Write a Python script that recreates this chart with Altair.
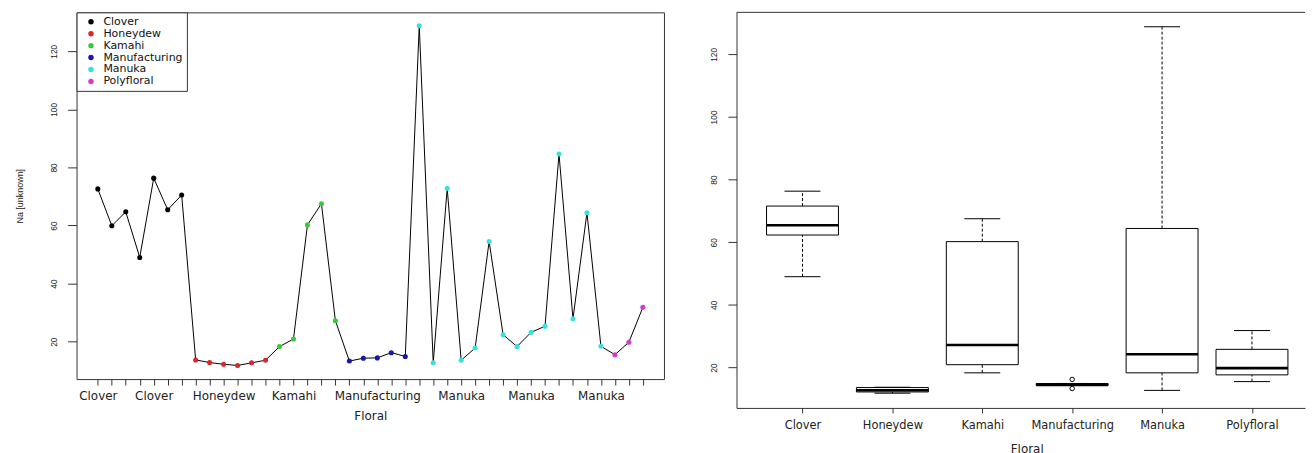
import math
import json
import altair as alt
import pandas as pd

# ---------------- data ----------------
floral_names = ["Clover", "Honeydew", "Kamahi", "Manufacturing", "Manuka", "Polyfloral"]
clover = [72.6, 59.9, 64.7, 49.0, 76.3, 65.4, 70.5]
honeydew = [13.7, 12.8, 12.2, 11.8, 12.7, 13.6]
kamahi = [18.3, 20.9, 60.2, 67.5, 27.2]
manufacturing = [13.3, 14.3, 14.4, 16.2, 14.9]
manuka = [128.8, 12.7, 72.8, 13.6, 17.8, 54.5, 22.4, 18.3, 23.2, 25.3, 84.6, 27.9, 64.4, 18.4]
polyfloral = [15.5, 19.8, 31.8]
point_colors = ["#000000", "#D8262B", "#3CC83C", "#1818A8", "#38E0E0", "#D43CC8"]
# sample indices that carry a text label on the left x axis
x_label_index = [1, 5, 10, 15, 21, 27, 32, 37]
y_ticks = [20, 40, 60, 80, 100, 120]

groups = [clover, honeydew, kamahi, manufacturing, manuka, polyfloral]

# ---------------- left panel table ----------------
vals, flor = [], []
for name, g in zip(floral_names, groups):
    vals += g
    flor += [name] * len(g)
n = len(vals)
left_df = pd.DataFrame({"idx": list(range(1, n + 1)), "na": vals, "floral": flor})
x_label_text = [flor[i - 1] for i in x_label_index]
label_expr = "indexof({a}, datum.value) >= 0 ? {b}[indexof({a}, datum.value)] : ''".format(
    a=json.dumps(x_label_index), b=json.dumps(x_label_text))

# ---------------- boxplot statistics (R boxplot / Tukey hinges) ----------------
def fivenum(v):
    s = sorted(v)
    m = len(s)
    n4 = math.floor((m + 3) / 2) / 2
    d = [1, n4, (m + 1) / 2, m + 1 - n4, m]
    return [0.5 * (s[math.floor(x - 1)] + s[math.ceil(x - 1)]) for x in d]

box_rows, out_rows = [], []
for pos, (name, g) in enumerate(zip(floral_names, groups), start=1):
    mn, q1, med, q3, mx = fivenum(g)
    iqr = q3 - q1
    inside = [v for v in g if q1 - 1.5 * iqr <= v <= q3 + 1.5 * iqr]
    lo, hi = min(inside), max(inside)
    box_rows.append({"pos": pos, "floral": name, "q1": q1, "med": med, "q3": q3, "lo": lo, "hi": hi})
    for v in g:
        if v < lo or v > hi:
            out_rows.append({"pos": pos, "value": v})
box_df = pd.DataFrame(box_rows)
out_df = pd.DataFrame(out_rows)
frame_df = pd.DataFrame({"k": [0]})

HFONT = "DejaVu Sans"
VFONT = "Liberation Sans"
FRAME = "#333333"
TXT = "#222222"

# ---------------- left panel ----------------
lx = alt.Scale(domain=[-0.52, 41.51], nice=False, zero=False)
ly = alt.Scale(domain=[7.1, 133.4], nice=False, zero=False)

x_left = alt.X("idx:Q", scale=lx, axis=alt.Axis(
    values=list(range(1, n + 1)), labelExpr=label_expr, labelOverlap=False, labelFlush=False,
    tickSize=6, tickColor=FRAME, labelPadding=6, labelFont=HFONT, labelFontSize=12,
    labelColor=TXT, domain=False, grid=False, title="Floral", titleFont=HFONT,
    titleFontSize=12, titleFontWeight="normal", titleColor=TXT, titlePadding=9))
y_left = alt.Y("na:Q", scale=ly, axis=alt.Axis(
    values=y_ticks, labelAngle=270, labelAlign="center", labelBaseline="bottom",
    tickSize=9, tickColor=FRAME, labelPadding=9.5, labelFont=VFONT, labelFontSize=8.5,
    labelColor=TXT, domain=False, grid=False, title="Na [unknown]", titleFont=VFONT,
    titleFontSize=9, titleFontWeight="normal", titleColor=TXT, titlePadding=24.5))

line = alt.Chart(left_df).mark_line(color="black", strokeWidth=1).encode(x=x_left, y=y_left)
pts = alt.Chart(left_df).mark_circle(size=26, opacity=1).encode(
    x=x_left, y=y_left,
    color=alt.Color("floral:N", scale=alt.Scale(domain=floral_names, range=point_colors),
                    legend=alt.Legend(orient="top-left", offset=0, title=None, strokeColor=FRAME,
                                      fillColor="white", padding=4, symbolType="circle",
                                      symbolSize=30, symbolStrokeWidth=0, labelFont=HFONT,
                                      labelFontSize=11, labelColor="#111111", labelOffset=7,
                                      symbolOffset=5, rowPadding=0, cornerRadius=0)))
left = alt.layer(line, pts).properties(width=591, height=369)

# ---------------- right panel ----------------
rx = alt.Scale(domain=[0.266, 6.59], nice=False, zero=False)
ry = alt.Scale(domain=[7.1, 133.4], nice=False, zero=False)
x_ax = alt.Axis(values=[1, 2, 3, 4, 5, 6],
                labelExpr="{b}[datum.value - 1]".format(b=json.dumps(floral_names)),
                labelOverlap=False, labelFlush=False, tickSize=5, tickColor=FRAME, labelPadding=7,
                labelFont=HFONT, labelFontSize=11.5, labelColor=TXT, domain=True,
                domainColor=FRAME, grid=False, title="Floral", titleFont=HFONT, titleFontSize=12,
                titleFontWeight="normal", titleColor=TXT, titlePadding=12, titleX=292)
y_ax = alt.Axis(values=y_ticks, labelAngle=270, labelAlign="center", labelBaseline="bottom",
                tickSize=8.6, tickColor=FRAME, labelPadding=9.5, labelFont=VFONT, labelFontSize=8.5,
                labelColor=TXT, domain=True, domainColor=FRAME, grid=False, title=None)

base = alt.Chart(box_df).transform_calculate(
    bl="datum.pos - 0.4", br="datum.pos + 0.4", sl="datum.pos - 0.2", sr="datum.pos + 0.2")

w_up = base.mark_rule(color="black", strokeWidth=1, strokeDash=[3, 2]).encode(
    x=alt.X("pos:Q", scale=rx, axis=x_ax), y=alt.Y("q3:Q", scale=ry, axis=y_ax), y2="hi:Q")
w_dn = base.mark_rule(color="black", strokeWidth=1, strokeDash=[3, 2]).encode(
    x=alt.X("pos:Q", scale=rx, axis=x_ax), y=alt.Y("lo:Q", scale=ry, axis=y_ax), y2="q1:Q")
cap_hi = base.mark_rule(color="black", strokeWidth=1).encode(
    x=alt.X("sl:Q", scale=rx, axis=x_ax), x2="sr:Q", y=alt.Y("hi:Q", scale=ry, axis=y_ax))
cap_lo = base.mark_rule(color="black", strokeWidth=1).encode(
    x=alt.X("sl:Q", scale=rx, axis=x_ax), x2="sr:Q", y=alt.Y("lo:Q", scale=ry, axis=y_ax))
box = base.mark_rect(fill="white", stroke="black", strokeWidth=1).encode(
    x=alt.X("bl:Q", scale=rx, axis=x_ax), x2="br:Q", y=alt.Y("q1:Q", scale=ry, axis=y_ax), y2="q3:Q")
med = base.mark_rule(color="black", strokeWidth=2.6).encode(
    x=alt.X("bl:Q", scale=rx, axis=x_ax), x2="br:Q", y=alt.Y("med:Q", scale=ry, axis=y_ax))
outl = alt.Chart(out_df).mark_point(shape="circle", filled=False, color="black", size=20,
                                    strokeWidth=1, opacity=1).encode(
    x=alt.X("pos:Q", scale=rx, axis=x_ax), y=alt.Y("value:Q", scale=ry, axis=y_ax))
top_line = alt.Chart(frame_df).mark_rule(color=FRAME, strokeWidth=1).encode(y=alt.value(0))

right = alt.layer(w_up, w_dn, cap_hi, cap_lo, box, med, outl, top_line).properties(
    width=572, height=398, view=alt.ViewBackground(stroke="transparent"))

chart = alt.hconcat(left, right, spacing=44).resolve_scale(
    color="independent", x="independent", y="independent").resolve_legend(
    color="independent").properties(
    padding={"left": 7, "top": 2, "right": 0, "bottom": 0}, background="white"
).configure_view(stroke=FRAME, strokeWidth=1)

chart.save("out.html", embed_options={"renderer": "svg", "actions": False})
